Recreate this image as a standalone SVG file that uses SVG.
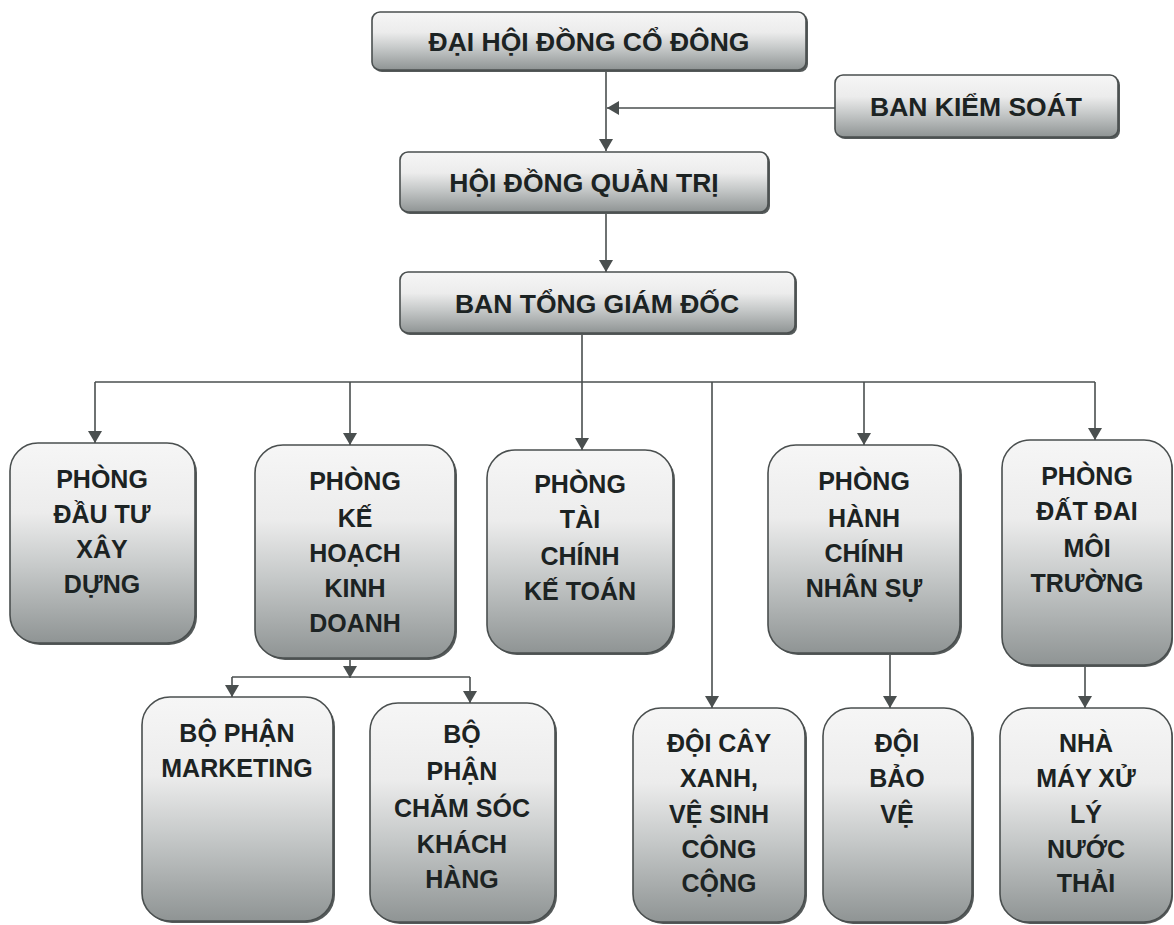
<svg xmlns="http://www.w3.org/2000/svg" width="1174" height="925" viewBox="0 0 1174 925">
<style>
.box{stroke:#4a4f4f;stroke-width:1.6;fill:url(#g)}
.sh{fill:#555a5a}
.t{font-family:"Liberation Sans",Arial,sans-serif;font-weight:bold;font-size:25px;fill:#1c2323;text-anchor:middle}
.tt{font-size:26.5px}
.c{stroke:#4a4f4f;stroke-width:1.6;fill:none}
.a{marker-end:url(#ar)}
</style>
<defs>
<linearGradient id="g" x1="0" y1="0" x2="0" y2="1">
<stop offset="0" stop-color="#f6f6f6"/>
<stop offset="0.35" stop-color="#ececec"/>
<stop offset="0.62" stop-color="#c6c9c9"/>
<stop offset="1" stop-color="#8f9494"/>
</linearGradient>
<marker id="ar" viewBox="0 0 12 14" refX="12" refY="7" markerWidth="12" markerHeight="14" markerUnits="userSpaceOnUse" orient="auto">
<path d="M0,0 L12,7 L0,14 Z" fill="#4a4f4f"/>
</marker>
</defs>
<rect width="1174" height="925" fill="#ffffff"/>
<g id="connectors">
<line class="c a" x1="606" y1="70" x2="606" y2="151"/>
<line class="c a" x1="835" y1="108" x2="607" y2="108"/>
<line class="c a" x1="606" y1="212" x2="606" y2="272"/>
<line class="c" x1="582" y1="333" x2="582" y2="382"/>
<line class="c" x1="95" y1="382" x2="1095" y2="382"/>
<line class="c a" x1="95" y1="382" x2="95" y2="443"/>
<line class="c a" x1="350" y1="382" x2="350" y2="445"/>
<line class="c a" x1="582" y1="382" x2="582" y2="450"/>
<line class="c a" x1="712" y1="382" x2="712" y2="708"/>
<line class="c a" x1="864" y1="382" x2="864" y2="445"/>
<line class="c a" x1="1095" y1="382" x2="1095" y2="440"/>
<line class="c a" x1="350" y1="658" x2="350" y2="678"/>
<line class="c" x1="232" y1="677" x2="470" y2="677"/>
<line class="c a" x1="232" y1="677" x2="232" y2="697"/>
<line class="c a" x1="470" y1="677" x2="470" y2="703"/>
<line class="c a" x1="890" y1="653" x2="890" y2="708"/>
<line class="c a" x1="1085" y1="665" x2="1085" y2="708"/>
</g>
<g id="dhdcd">
<rect class="sh" x="374" y="14" width="434" height="58" rx="8"/>
<rect class="box" x="372" y="12" width="434" height="58" rx="8"/>
<text class="t tt" x="589" y="51">ĐẠI HỘI ĐỒNG CỔ ĐÔNG</text>
</g>
<g id="bks">
<rect class="sh" x="837" y="77" width="283" height="62" rx="8"/>
<rect class="box" x="835" y="75" width="283" height="62" rx="8"/>
<text class="t tt" x="976" y="116">BAN KIỂM SOÁT</text>
</g>
<g id="hdqt">
<rect class="sh" x="402" y="154" width="368" height="60" rx="8"/>
<rect class="box" x="400" y="152" width="368" height="60" rx="8"/>
<text class="t tt" x="584" y="192">HỘI ĐỒNG QUẢN TRỊ</text>
</g>
<g id="btgd">
<rect class="sh" x="402" y="274" width="395" height="61" rx="8"/>
<rect class="box" x="400" y="272" width="395" height="61" rx="8"/>
<text class="t tt" x="597" y="313">BAN TỔNG GIÁM ĐỐC</text>
</g>
<g id="pdtxd">
<rect class="sh" x="12" y="445" width="185" height="200" rx="28"/>
<rect class="box" x="10" y="443" width="185" height="200" rx="28"/>
<text class="t" x="102" y="488">PHÒNG</text>
<text class="t" x="102" y="523">ĐẦU TƯ</text>
<text class="t" x="102" y="558">XÂY</text>
<text class="t" x="102" y="593">DỰNG</text>
</g>
<g id="pkhkd">
<rect class="sh" x="257" y="447" width="200" height="213" rx="28"/>
<rect class="box" x="255" y="445" width="200" height="213" rx="28"/>
<text class="t" x="355" y="490">PHÒNG</text>
<text class="t" x="355" y="527">KẾ</text>
<text class="t" x="355" y="562">HOẠCH</text>
<text class="t" x="355" y="597">KINH</text>
<text class="t" x="355" y="632">DOANH</text>
</g>
<g id="ptckt">
<rect class="sh" x="489" y="452" width="186" height="203" rx="28"/>
<rect class="box" x="487" y="450" width="186" height="203" rx="28"/>
<text class="t" x="580" y="493">PHÒNG</text>
<text class="t" x="580" y="528">TÀI</text>
<text class="t" x="580" y="565">CHÍNH</text>
<text class="t" x="580" y="600">KẾ TOÁN</text>
</g>
<g id="phcns">
<rect class="sh" x="770" y="447" width="192" height="208" rx="28"/>
<rect class="box" x="768" y="445" width="192" height="208" rx="28"/>
<text class="t" x="864" y="490">PHÒNG</text>
<text class="t" x="864" y="527">HÀNH</text>
<text class="t" x="864" y="562">CHÍNH</text>
<text class="t" x="864" y="597">NHÂN SỰ</text>
</g>
<g id="pddmt">
<rect class="sh" x="1004" y="442" width="169" height="225" rx="28"/>
<rect class="box" x="1002" y="440" width="170" height="225" rx="28"/>
<text class="t" x="1087" y="485">PHÒNG</text>
<text class="t" x="1087" y="520">ĐẤT ĐAI</text>
<text class="t" x="1087" y="557">MÔI</text>
<text class="t" x="1087" y="592">TRƯỜNG</text>
</g>
<g id="bpmkt">
<rect class="sh" x="144" y="699" width="191" height="224" rx="28"/>
<rect class="box" x="142" y="697" width="191" height="224" rx="28"/>
<text class="t" x="237" y="742">BỘ PHẬN</text>
<text class="t" x="237" y="777">MARKETING</text>
</g>
<g id="bpcskh">
<rect class="sh" x="372" y="705" width="185" height="219" rx="28"/>
<rect class="box" x="370" y="703" width="185" height="219" rx="28"/>
<text class="t" x="462" y="743">BỘ</text>
<text class="t" x="462" y="780">PHẬN</text>
<text class="t" x="462" y="817">CHĂM SÓC</text>
<text class="t" x="462" y="853">KHÁCH</text>
<text class="t" x="462" y="888">HÀNG</text>
</g>
<g id="dcxvs">
<rect class="sh" x="635" y="710" width="172" height="214" rx="28"/>
<rect class="box" x="633" y="708" width="172" height="214" rx="28"/>
<text class="t" x="719" y="752">ĐỘI CÂY</text>
<text class="t" x="719" y="787">XANH,</text>
<text class="t" x="719" y="823">VỆ SINH</text>
<text class="t" x="719" y="858">CÔNG</text>
<text class="t" x="719" y="892">CỘNG</text>
</g>
<g id="dbv">
<rect class="sh" x="825" y="710" width="149" height="214" rx="28"/>
<rect class="box" x="823" y="708" width="149" height="214" rx="28"/>
<text class="t" x="897" y="752">ĐỘI</text>
<text class="t" x="897" y="787">BẢO</text>
<text class="t" x="897" y="823">VỆ</text>
</g>
<g id="nmxlnt">
<rect class="sh" x="1002" y="710" width="171" height="214" rx="28"/>
<rect class="box" x="1000" y="708" width="172" height="214" rx="28"/>
<text class="t" x="1086" y="752">NHÀ</text>
<text class="t" x="1086" y="787">MÁY XỬ</text>
<text class="t" x="1086" y="823">LÝ</text>
<text class="t" x="1086" y="858">NƯỚC</text>
<text class="t" x="1086" y="892">THẢI</text>
</g>
</svg>
